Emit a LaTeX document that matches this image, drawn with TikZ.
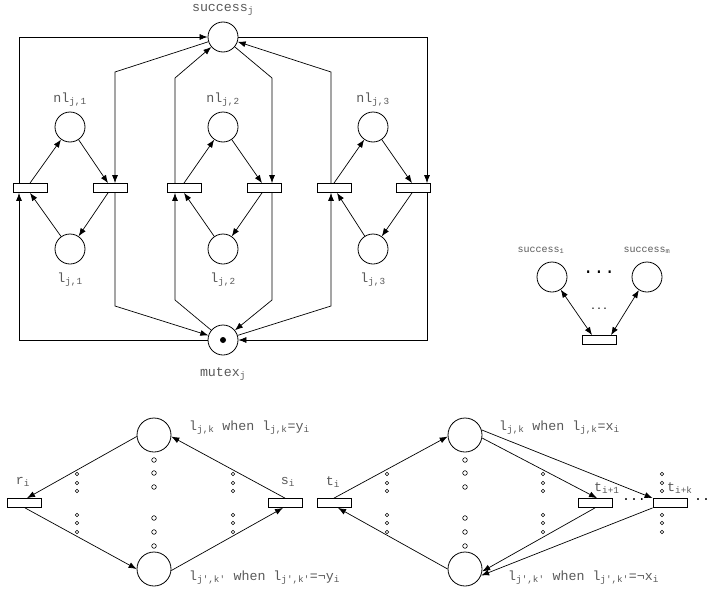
\documentclass[tikz,border=0pt]{standalone}
\usepackage{fontspec}
\setmainfont{Liberation Mono}
\usetikzlibrary{arrows.meta,calc}
\newcommand{\pr}{\textquotesingle}
\begin{document}
\begin{tikzpicture}[x=1pt,y=-1pt,
 place/.style={circle,draw,line width=0.8pt,minimum size=30pt,inner sep=0pt},
 bigplace/.style={place,minimum size=34pt},
 trans/.style={rectangle,draw,line width=0.8pt,minimum width=34pt,minimum height=9pt,inner sep=0pt},
 arr/.style={-{Latex[length=8pt,width=6pt]},line width=0.7pt},
 darr/.style={{Latex[length=8pt,width=6pt]}-{Latex[length=8pt,width=6pt]},line width=0.7pt},
 lbl/.style={font=\fontsize{13.3}{15}\selectfont,text=black!65,inner sep=0pt},
 slbl/.style={font=\fontsize{10}{12}\selectfont,text=black!65,inner sep=0pt},
 sdot/.style={circle,draw,line width=0.6pt,minimum size=3.4pt,inner sep=0pt},
 bdot/.style={circle,draw,line width=0.6pt,minimum size=4.6pt,inner sep=0pt},
]
\useasboundingbox (0,0) rectangle (712,597);

% ---------- top cluster ----------
\node[place] (S) at (223,37) {};
\node[place] (N1) at (70,127) {};
\node[place] (N2) at (223,127) {};
\node[place] (N3) at (373,127) {};
\node[place] (L1) at (70,249) {};
\node[place] (L2) at (223,249) {};
\node[place] (L3) at (373,249) {};
\node[place] (M) at (223,340) {};
\fill (M.center) circle[radius=3pt];

\node[trans] (T1) at (30,188) {};
\node[trans] (T2) at (110,188) {};
\node[trans] (T3) at (184,188) {};
\node[trans] (T4) at (264,188) {};
\node[trans] (T5) at (334,188) {};
\node[trans] (T6) at (413,188) {};

\node[lbl,anchor=base] (lS) at (223,11) {success\textsubscript{j}};
\node[lbl,anchor=base] (lN1) at (70,102) {nl\textsubscript{j,1}};
\node[lbl,anchor=base] (lN2) at (223,102) {nl\textsubscript{j,2}};
\node[lbl,anchor=base] (lN3) at (373,102) {nl\textsubscript{j,3}};
\node[lbl,anchor=base] (lL1) at (70,282) {l\textsubscript{j,1}};
\node[lbl,anchor=base] (lL2) at (223,282) {l\textsubscript{j,2}};
\node[lbl,anchor=base] (lL3) at (373,282) {l\textsubscript{j,3}};
\node[lbl,anchor=base] (lM) at (223,376) {mutex\textsubscript{j}};

% inner arrows
\draw[arr] (T1.north) -- (N1);
\draw[arr] (N1) -- ([xshift=-2pt]T2.north);
\draw[arr] ([xshift=-2pt]T2.south) -- (L1);
\draw[arr] (L1) -- (T1.south);

\draw[arr] (T3.north) -- (N2);
\draw[arr] (N2) -- ([xshift=-2pt]T4.north);
\draw[arr] ([xshift=-2pt]T4.south) -- (L2);
\draw[arr] (L2) -- (T3.south);

\draw[arr] (T5.north) -- (N3);
\draw[arr] (N3) -- ([xshift=-1pt]T6.north);
\draw[arr] ([xshift=-1pt]T6.south) -- (L3);
\draw[arr] (L3) -- ([xshift=3pt]T5.south);

% outer connections
\draw[arr] ([xshift=-11pt]T1.north) |- (S);
\draw[arr] (M) -| ([xshift=-11pt]T1.south);
\draw[arr] (S) -- (115,72) -- ([xshift=5pt]T2.north);
\draw[arr] ([xshift=5pt]T2.south) -- (115,306) -- (M);
\draw[arr] ([xshift=-9pt]T3.north) -- (175,78) -- (S);
\draw[arr] (M) -- (175,300) -- ([xshift=-9pt]T3.south);
\draw[arr] (S) -- (272,78) -- ([xshift=8pt]T4.north);
\draw[arr] ([xshift=8pt]T4.south) -- (272,300) -- (M);
\draw[arr] ([xshift=-3pt]T5.north) -- (331,72) -- (S);
\draw[arr] (M) -- (331,306) -- ([xshift=-3pt]T5.south);
\draw[arr] (S.east) -| ([xshift=14pt]T6.north);
\draw[arr] ([xshift=14pt]T6.south) |- (M);

% ---------- right cluster ----------
\node[place] (S1) at (552,277) {};
\node[place] (Sm) at (647,277) {};
\node[trans] (TT) at (599,340) {};
\node[slbl,anchor=base] (lS1) at (541,252) {success\textsubscript{1}};
\node[slbl,anchor=base] (lSm) at (647,252) {success\textsubscript{m}};
\node[font=\fontsize{18}{20}\selectfont,inner sep=0pt] (dotsA) at (599,272) {...};
\node[slbl,text=black] (dotsB) at (599,309) {...};
\draw[darr] (S1) -- ([xshift=-7pt]TT.north);
\draw[darr] (Sm) -- ([xshift=12pt]TT.north);

% ---------- bottom left ----------
\node[bigplace] (A) at (154,435) {};
\node[bigplace] (B) at (154,569) {};
\node[trans] (R) at (24,503) {};
\node[trans] (Si) at (285,503) {};
\node[lbl,anchor=base] (lR) at (23,484) {r\textsubscript{i}};
\node[lbl,anchor=base] (lSi) at (288,484) {s\textsubscript{i}};
\node[lbl,anchor=base west] (lA) at (189,430) {l\textsubscript{j,k} when l\textsubscript{j,k}=y\textsubscript{i}};
\node[lbl,anchor=base west] (lB) at (189,580) {l\textsubscript{j\pr,k\pr} when l\textsubscript{j\pr,k\pr}=¬y\textsubscript{i}};
\draw[arr] (A.185) -- ([xshift=3pt]R.north);
\draw[arr] ([xshift=1pt]R.south) -- (B.180);
\draw[arr] (B.-5) -- ([xshift=-2pt]Si.south);
\draw[arr] (Si.north) -- (A.-5);

% ---------- bottom right ----------
\node[bigplace] (C) at (465,435) {};
\node[bigplace] (D) at (465,569) {};
\node[trans] (Ti) at (334,503) {};
\node[trans] (Ti1) at (595,503) {};
\node[trans] (Tik) at (670,503) {};
\node[lbl,anchor=base] (lTi) at (333,485) {t\textsubscript{i}};
\node[lbl,anchor=base west] (lTi1) at (594,491) {t\textsubscript{i+1}};
\node[lbl,anchor=base west] (lTik) at (667,491) {t\textsubscript{i+k}};
\node[lbl,text=black] (dotsC) at (634,500) {...};
\node[lbl,text=black,anchor=west] (dotsD) at (694,500) {..};
\node[lbl,anchor=base west] (lC) at (499,430) {l\textsubscript{j,k} when l\textsubscript{j,k}=x\textsubscript{i}};
\node[lbl,anchor=base west] (lD) at (508,580) {l\textsubscript{j\pr,k\pr} when l\textsubscript{j\pr,k\pr}=¬x\textsubscript{i}};
\draw[arr] (Ti.north) -- (C.185);
\draw[arr] (D.180) -- ([xshift=4pt]Ti.south);
\draw[arr] (C.17) -- (Tik.north west);
\draw[arr] (C.-10) -- ([xshift=2pt]Ti1.north);
\draw[arr] (Ti1.south) -- (D.-8);
\draw[arr] (Tik.south west) -- (D.-22);

% ---------- dot columns ----------
\foreach \x in {77,233,387,543,662}{
  \foreach \y in {474,483,491,515,523,532}{
    \node[sdot] (d\x-\y) at (\x,\y) {};
  }
}
\foreach \x in {154,465}{
  \foreach \y in {460,473,487,518,532,546}{
    \node[bdot] (e\x-\y) at (\x,\y) {};
  }
}
\end{tikzpicture}
\end{document}
